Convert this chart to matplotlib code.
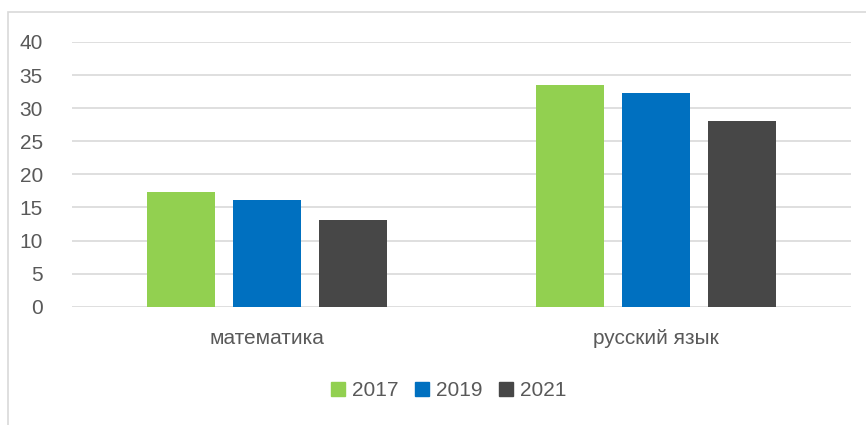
import matplotlib.pyplot as plt
import numpy as np
from matplotlib.patches import Rectangle, Patch

# data
categories = ["математика", "русский язык"]
years = ["2017", "2019", "2021"]
values_2017 = [17.3, 33.5]
values_2019 = [16.1, 32.3]
values_2021 = [13.1, 28.0]
colors = ["#92D050", "#0070C0", "#474747"]

plt.rcParams["font.family"] = ["Liberation Sans", "DejaVu Sans"]
text_color = "#595959"

fig = plt.figure(figsize=(8.66, 4.25), dpi=100)
ax = fig.add_axes([0.0831, 0.2784, 0.8995, 0.6228])

x = np.arange(len(categories))
offset = 0.221
width = 0.175
series = [values_2017, values_2019, values_2021]
for i, vals in enumerate(series):
    ax.bar(x + (i - 1) * offset, vals, width=width, color=colors[i], zorder=3)

ax.set_xlim(-0.5, 1.5)
ax.set_ylim(0, 40)
ax.set_yticks(range(0, 41, 5))
ax.yaxis.grid(True, color="#D9D9D9", linewidth=1.2, zorder=0)
ax.set_axisbelow(True)
for s in ax.spines.values():
    s.set_visible(False)
ax.tick_params(axis="both", length=0, colors=text_color, labelsize=15)
ax.tick_params(axis="y", pad=21)
ax.set_xticks(x)
ax.set_xticklabels(categories)
ax.tick_params(axis="x", pad=16)

handles = [Patch(color=c) for c in colors]
fig.legend(handles, years, loc="center", bbox_to_anchor=(0.518, 0.08), ncol=3,
           frameon=False, fontsize=15, handlelength=0.65, handleheight=0.65,
           handletextpad=0.35, columnspacing=0.8, labelcolor=text_color)

# chart border (cut off at right and bottom)
fig.patches.append(Rectangle((8 / 866, -0.1), 1.2, 0.972 + 0.1, transform=fig.transFigure,
                             fill=False, edgecolor="#D9D9D9", linewidth=1.2))

fig.savefig("out.png", dpi=100)
